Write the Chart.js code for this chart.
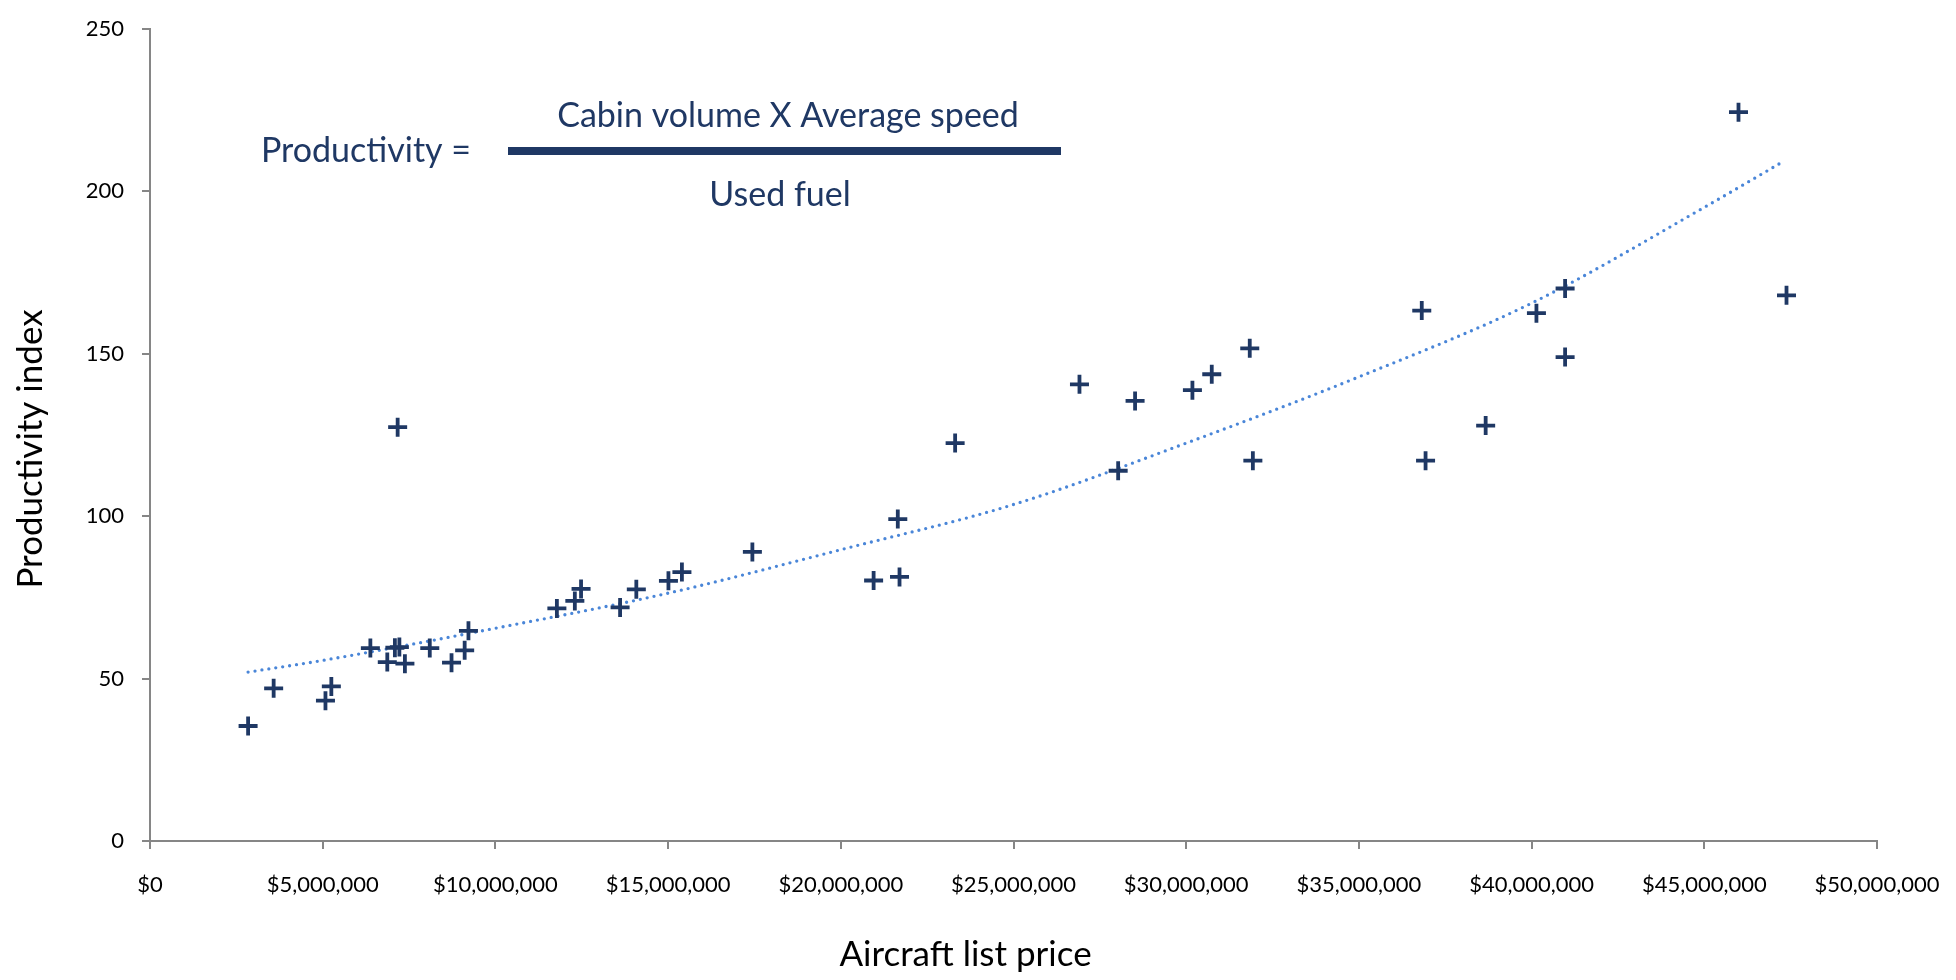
<!DOCTYPE html>
<html>
<head>
<meta charset="utf-8">
<script src="https://cdn.jsdelivr.net/npm/chart.js@4.4.1/dist/chart.umd.min.js"></script>
<style>
  html, body { margin: 0; padding: 0; background: #ffffff; }
  #wrap { width: 1956px; height: 980px; position: relative; }
</style>
</head>
<body>
<div id="wrap"><canvas id="c" width="1956" height="980"></canvas></div>
<script>
// ---- data ----
const listPrice = [2840000, 3580000, 5080000, 5250000, 6380000, 6870000, 7090000, 7220000, 7380000, 7170000,
  8100000, 8730000, 9110000, 9220000, 11780000, 12300000, 12480000, 13610000, 14080000, 15010000,
  15400000, 17440000, 20950000, 21700000, 21650000, 23310000, 26910000, 28030000, 28520000, 30180000,
  30740000, 31840000, 31930000, 36820000, 36930000, 38670000, 40140000, 40970000, 40970000, 45990000, 47380000];
const productivityIndex = [35.4, 47.0, 43.2, 47.6, 59.4, 55.1, 59.5, 59.7, 54.6, 127.4,
  59.4, 54.9, 58.7, 64.7, 71.6, 73.9, 77.6, 71.9, 77.5, 80.1,
  82.8, 89.0, 80.2, 81.3, 99.1, 122.5, 140.6, 114.0, 135.5, 138.8,
  143.7, 151.7, 117.1, 163.3, 117.1, 127.9, 162.5, 170.1, 149.0, 224.4, 168.0];
// trendline (dotted)
const trendPrice = [2840000, 5000000, 10000000, 15000000, 20000000, 25000000, 30000000, 35000000, 40000000, 45000000, 47300000];
const trendValue = [52.0, 55.6, 65.5, 76.3, 89.7, 103.6, 122.5, 142.9, 165.6, 195.1, 209.3];

const xTickValues = [0, 5000000, 10000000, 15000000, 20000000, 25000000, 30000000, 35000000, 40000000, 45000000, 50000000];
const xTickLabels = ['$0', '$5,000,000', '$10,000,000', '$15,000,000', '$20,000,000', '$25,000,000',
  '$30,000,000', '$35,000,000', '$40,000,000', '$45,000,000', '$50,000,000'];
const yTickValues = [0, 50, 100, 150, 200, 250];
const yTickLabels = ['0', '50', '100', '150', '200', '250'];

const xTitle = 'Aircraft list price';
const yTitle = 'Productivity index';
const formulaLeft = 'Productivity =';
const formulaTop = 'Cabin volume X Average speed';
const formulaBottom = 'Used fuel';

// ---- styles ----
const NAVY = '#1F3864';
const TREND = '#4A86D8';
const AXIS = '#868686';
const FONT = 'Lato, "Open Sans", sans-serif';

// shift the built-in axis titles to where the reference places them
const titleShiftPlugin = {
  id: 'titleShift',
  afterLayout(chart) {
    const shifts = { x: [-48, 0], y: [0, 14] };
    Object.keys(shifts).forEach(id => {
      const s = chart.scales[id];
      if (!s || s._titleShifted) return;
      const orig = s.drawTitle;
      s.drawTitle = function () {
        const ctx = this.ctx;
        ctx.save();
        ctx.translate(shifts[id][0], shifts[id][1]);
        orig.apply(this, arguments);
        ctx.restore();
      };
      s._titleShifted = true;
    });
  }
};

const formulaPlugin = {
  id: 'formula',
  afterDraw(chart) {
    const ctx = chart.ctx;
    ctx.save();
    ctx.fillStyle = NAVY;
    ctx.font = '34px ' + FONT;
    ctx.textBaseline = 'middle';
    ctx.textAlign = 'left';
    ctx.fillText(formulaLeft, 261, 151);
    ctx.textAlign = 'center';
    ctx.fillText(formulaTop, 788, 116);
    ctx.fillText(formulaBottom, 780, 195);
    ctx.fillRect(508, 147, 553, 8);
    ctx.restore();
  }
};

const points = listPrice.map((p, i) => ({ x: p, y: productivityIndex[i] }));
const trend = trendPrice.map((p, i) => ({ x: p, y: trendValue[i] }));

new Chart(document.getElementById('c'), {
  type: 'scatter',
  data: {
    datasets: [
      {
        label: 'Aircraft',
        data: points,
        pointStyle: 'cross',
        pointRadius: 9.5,
        pointHoverRadius: 9.5,
        pointBorderWidth: 3.8,
        borderColor: NAVY,
        backgroundColor: NAVY,
        showLine: false,
        order: 0
      },
      {
        label: 'Trend',
        type: 'line',
        data: trend,
        showLine: true,
        pointRadius: 0,
        borderColor: TREND,
        borderWidth: 3.3,
        borderDash: [0, 7],
        borderCapStyle: 'round',
        cubicInterpolationMode: 'monotone',
        fill: false,
        order: 1
      }
    ]
  },
  options: {
    responsive: false,
    animation: false,
    devicePixelRatio: 1,
    layout: { padding: { top: 29, right: 79, bottom: 0, left: 0 } },
    plugins: { legend: { display: false }, tooltip: { enabled: false } },
    scales: {
      x: {
        type: 'linear',
        min: 0, max: 50000000,
        afterFit(scale) { scale.height = 139; scale.paddingLeft = 0; scale.paddingRight = 0; },
        afterBuildTicks(scale) { scale.ticks = xTickValues.map(v => ({ value: v })); },
        border: { display: true, color: AXIS, width: 2 },
        grid: { display: true, drawOnChartArea: false, drawTicks: true, tickLength: 8, color: AXIS, lineWidth: 2 },
        ticks: {
          color: '#000000',
          font: { family: FONT, size: 22 },
          padding: 23,
          maxRotation: 0,
          autoSkip: false,
          callback: (v) => xTickLabels[xTickValues.indexOf(v)]
        },
        title: {
          display: true, text: xTitle, color: '#000000',
          font: { family: FONT, size: 35 },
          padding: { top: 0, bottom: 4 }
        }
      },
      y: {
        type: 'linear',
        min: 0, max: 250,
        afterFit(scale) { scale.width = 150; scale.paddingTop = 0; scale.paddingBottom = 0; },
        afterBuildTicks(scale) { scale.ticks = yTickValues.map(v => ({ value: v })); },
        border: { display: true, color: AXIS, width: 2 },
        grid: { display: true, drawOnChartArea: false, drawTicks: true, tickLength: 8, color: AXIS, lineWidth: 2 },
        ticks: {
          color: '#000000',
          font: { family: FONT, size: 22 },
          padding: 18,
          callback: (v) => yTickLabels[yTickValues.indexOf(v)]
        },
        title: {
          display: true, text: yTitle, color: '#000000',
          font: { family: FONT, size: 35 },
          padding: { top: 10, bottom: 0 }
        }
      }
    }
  },
  plugins: [titleShiftPlugin, formulaPlugin]
});
</script>
</body>
</html>
